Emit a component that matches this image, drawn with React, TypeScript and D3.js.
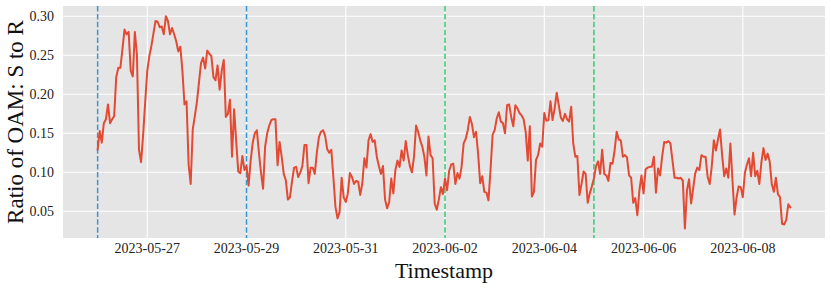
import React from "react";
import * as d3 from "d3";

// Hourly ratio values starting 2023-05-26 00:00 (UTC)
const startTime = "2023-05-26T00:00:00Z";
const ratioValues: number[] = [
  0.129,0.153,0.138,0.163,0.168,0.187,0.163,0.168,0.172,0.222,0.234,0.234,
  0.258,0.283,0.277,0.280,0.230,0.223,0.280,0.251,0.129,0.113,0.148,0.190,
  0.230,0.249,0.262,0.278,0.294,0.293,0.286,0.287,0.277,0.300,0.294,0.277,
  0.285,0.277,0.268,0.255,0.261,0.230,0.187,0.191,0.110,0.085,0.155,0.172,
  0.190,0.215,0.240,0.247,0.233,0.256,0.252,0.249,0.222,0.218,0.237,0.206,
  0.230,0.244,0.171,0.175,0.193,0.120,0.181,0.140,0.101,0.099,0.121,0.103,
  0.108,0.083,0.115,0.138,0.150,0.154,0.125,0.100,0.079,0.133,0.150,0.160,
  0.167,0.168,0.168,0.109,0.139,0.120,0.098,0.090,0.065,0.068,0.088,0.106,
  0.107,0.094,0.100,0.108,0.135,0.135,0.086,0.106,0.106,0.098,0.125,0.145,
  0.152,0.154,0.147,0.130,0.125,0.129,0.094,0.056,0.041,0.049,0.093,0.068,
  0.062,0.073,0.099,0.094,0.085,0.089,0.088,0.071,0.086,0.118,0.106,0.141,
  0.149,0.139,0.141,0.120,0.108,0.098,0.108,0.065,0.054,0.062,0.092,0.073,
  0.103,0.115,0.107,0.128,0.115,0.140,0.122,0.108,0.100,0.120,0.160,0.152,
  0.141,0.133,0.120,0.096,0.146,0.122,0.118,0.060,0.052,0.065,0.081,0.072,
  0.092,0.077,0.102,0.110,0.111,0.085,0.099,0.092,0.107,0.137,0.143,0.154,
  0.171,0.162,0.145,0.152,0.124,0.086,0.095,0.075,0.074,0.064,0.103,0.148,
  0.154,0.169,0.177,0.165,0.163,0.150,0.186,0.187,0.171,0.159,0.186,0.182,
  0.176,0.173,0.168,0.152,0.115,0.159,0.069,0.075,0.116,0.122,0.137,0.133,
  0.176,0.166,0.167,0.191,0.167,0.182,0.202,0.186,0.170,0.166,0.175,0.168,
  0.165,0.184,0.137,0.120,0.121,0.071,0.085,0.101,0.098,0.061,0.073,0.082,
  0.092,0.108,0.114,0.098,0.129,0.098,0.096,0.089,0.112,0.111,0.128,0.152,
  0.142,0.141,0.120,0.122,0.119,0.096,0.093,0.061,0.067,0.045,0.077,0.096,
  0.073,0.104,0.106,0.107,0.107,0.120,0.074,0.105,0.096,0.120,0.139,0.138,
  0.140,0.137,0.115,0.093,0.093,0.092,0.093,0.089,0.028,0.077,0.091,0.060,
  0.079,0.099,0.106,0.103,0.122,0.120,0.120,0.094,0.085,0.108,0.141,0.128,
  0.142,0.155,0.122,0.095,0.105,0.093,0.137,0.090,0.046,0.068,0.082,0.081,
  0.068,0.099,0.110,0.118,0.095,0.125,0.095,0.102,0.085,0.113,0.131,0.116,
  0.124,0.114,0.085,0.075,0.093,0.072,0.068,0.034,0.033,0.039,0.059,0.055,
];

const xTickLabels = [
  "2023-05-27","2023-05-29","2023-05-31","2023-06-02","2023-06-04","2023-06-06","2023-06-08",
];
const yTickValues = [0.05, 0.10, 0.15, 0.20, 0.25, 0.30];
const blueMarkers = ["2023-05-26", "2023-05-29"];
const greenMarkers = ["2023-06-02", "2023-06-05"];

const W = 831, H = 289;
const box = { left: 63, right: 825, top: 6, bottom: 238 };
const FONT = "'Liberation Serif', 'Times New Roman', serif";

export default function App() {
  const parseDay = d3.utcParse("%Y-%m-%d");
  const t0 = new Date(startTime);
  const data = ratioValues.map((v, i) => ({ t: d3.utcHour.offset(t0, i), v }));
  const tMin = data[0].t.getTime();
  const tMax = data[data.length - 1].t.getTime();
  const pad = (tMax - tMin) * 0.05;

  const x = d3.scaleUtc().domain([new Date(tMin - pad), new Date(tMax + pad)]).range([box.left, box.right]);
  const y = d3.scaleLinear().domain([0.0158, 0.3132]).range([box.bottom, box.top]);

  const line = d3.line<{ t: Date; v: number }>().x(d => x(d.t)).y(d => y(d.v));
  const fmt = d3.format(".2f");

  const xTicks = xTickLabels.map(s => ({ s, d: parseDay(s)! }));

  return (
    <svg width={W} height={H} style={{ position: "absolute", left: 0, top: 0 }} fontFamily={FONT}>
      <rect x={box.left} y={box.top} width={box.right - box.left} height={box.bottom - box.top} fill="#E5E5E5" />
      {yTickValues.map(v => (
        <line key={"gy" + v} x1={box.left} x2={box.right} y1={y(v)} y2={y(v)} stroke="#ffffff" strokeWidth={1.1} />
      ))}
      {xTicks.map(tk => (
        <line key={"gx" + tk.s} x1={x(tk.d)} x2={x(tk.d)} y1={box.top} y2={box.bottom} stroke="#ffffff" strokeWidth={1.1} />
      ))}
      {blueMarkers.map(s => (
        <line key={"b" + s} x1={x(parseDay(s)!)} x2={x(parseDay(s)!)} y1={box.top} y2={box.bottom}
          stroke="#3498DB" strokeWidth={1.5} strokeDasharray="5.5,2.4" />
      ))}
      {greenMarkers.map(s => (
        <line key={"g" + s} x1={x(parseDay(s)!)} x2={x(parseDay(s)!)} y1={box.top} y2={box.bottom}
          stroke="#2ECC71" strokeWidth={1.5} strokeDasharray="5.5,2.4" />
      ))}
      <path d={line(data) || ""} fill="none" stroke="#E24A33" strokeWidth={2} strokeLinejoin="round" strokeLinecap="round" />
      {yTickValues.map(v => (
        <text key={"ty" + v} x={54} y={y(v)} dy="0.35em" textAnchor="end" fontSize={14} fill="#222">{fmt(v)}</text>
      ))}
      {xTicks.map(tk => (
        <text key={"tx" + tk.s} x={x(tk.d)} y={253} textAnchor="middle" fontSize={14} fill="#222">{tk.s}</text>
      ))}
      <text x={(box.left + box.right) / 2} y={278} textAnchor="middle" fontSize={22} fill="#111">Timestamp</text>
      <text transform={`translate(23,${(box.top + box.bottom) / 2}) rotate(-90)`} textAnchor="middle" fontSize={23} fill="#111">
        Ratio of OAM: S to R
      </text>
    </svg>
  );
}
